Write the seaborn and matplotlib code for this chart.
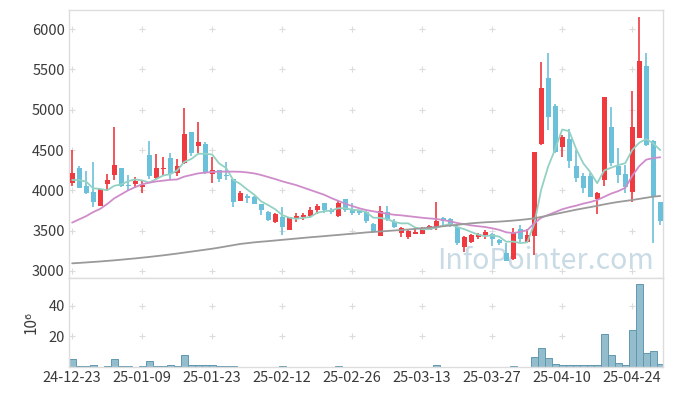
import numpy as np
import pandas as pd
import matplotlib
matplotlib.use('Agg')
import matplotlib.pyplot as plt
import seaborn as sns

# daily candles, 24-12-23 .. 25-04-29 (trading days only)
opens = [4095, 4277, 4054, 3980, 3806, 4079, 4190, 4273, 4071, 4079,
         4046, 4438, 4157, 4260, 4397, 4219, 4335, 4720, 4554, 4575,
         4203, 4248, 4195, 4141, 3872, 3930, 3914, 3831, 3732, 3604,
         3674, 3508, 3661, 3666, 3682, 3756, 3839, 3756, 3682, 3889,
         3765, 3740, 3732, 3579, 3438, 3728, 3612, 3475, 3426, 3463,
         3463, 3508, 3542, 3657, 3641, 3550, 3293, 3360, 3418, 3443,
         3455, 3384, 3219, 3145, 3517, 3360, 3434, 4571, 5389, 5042,
         4542, 4633, 4302, 4178, 4178, 3889, 4128, 4782, 4306, 4203,
         3984, 4653, 5542, 4612, 3851]
highs = [4500, 4302, 4240, 4352, 4021, 4203, 4782, 4281, 4195, 4162,
         4128, 4608, 4451, 4410, 4459, 4385, 5017, 4728, 4844, 4604,
         4418, 4252, 4348, 4145, 3992, 3955, 3930, 3835, 3740, 3715,
         3790, 3675, 3723, 3715, 3790, 3831, 3843, 3777, 3872, 3893,
         3843, 3750, 3740, 3591, 3806, 3806, 3649, 3542, 3508, 3529,
         3550, 3566, 3852, 3674, 3653, 3570, 3430, 3455, 3475, 3508,
         3467, 3401, 3343, 3529, 3570, 3517, 4480, 5596, 5707, 5071,
         4686, 4757, 4500, 4211, 4211, 3984, 5160, 5030, 4521, 4314,
         5232, 6146, 5699, 4620, 3860]
lows = [4054, 4025, 3951, 3798, 3800, 3996, 4128, 4038, 3996, 4025,
        3963, 4141, 4137, 4178, 4141, 4178, 4323, 4426, 4459, 4203,
        4087, 4108, 4128, 3790, 3868, 3847, 3827, 3694, 3620, 3600,
        3446, 3505, 3612, 3632, 3666, 3707, 3723, 3707, 3666, 3735,
        3694, 3700, 3591, 3475, 3435, 3624, 3538, 3417, 3401, 3459,
        3459, 3504, 3508, 3570, 3550, 3322, 3239, 3347, 3393, 3401,
        3310, 3318, 3120, 3140, 3364, 3356, 3198, 4567, 4748, 4460,
        4418, 4273, 4108, 3971, 3918, 3707, 4054, 4302, 4087, 3963,
        3851, 4645, 4555, 3343, 3570]
closes = [4219, 4033, 3971, 3856, 4013, 4128, 4314, 4058, 4058, 4120,
          4066, 4178, 4277, 4277, 4203, 4302, 4699, 4459, 4600, 4211,
          4252, 4145, 4178, 3860, 3963, 3905, 3831, 3756, 3632, 3707,
          3542, 3666, 3686, 3694, 3756, 3806, 3756, 3732, 3839, 3756,
          3715, 3720, 3624, 3488, 3744, 3641, 3550, 3529, 3492, 3484,
          3533, 3554, 3620, 3624, 3583, 3343, 3426, 3443, 3459, 3484,
          3401, 3343, 3128, 3467, 3393, 3446, 4472, 5265, 4905, 4472,
          4657, 4368, 4157, 4033, 3922, 3963, 5154, 4335, 4190, 4038,
          4782, 5604, 4562, 3922, 3624]

# moving averages as drawn (5 / 20 / long)
ma5 = [4128, 4128, 4108, 4025, 4018, 4000, 4056, 4074, 4114, 4136,
       4123, 4096, 4140, 4184, 4200, 4247, 4352, 4388, 4453, 4454,
       4444, 4333, 4277, 4129, 4080, 4010, 3947, 3863, 3817, 3766,
       3694, 3661, 3647, 3659, 3669, 3722, 3740, 3749, 3778, 3778,
       3760, 3752, 3731, 3661, 3658, 3643, 3609, 3590, 3591, 3539,
       3518, 3518, 3537, 3563, 3583, 3545, 3519, 3484, 3451, 3431,
       3443, 3426, 3363, 3365, 3346, 3355, 3581, 4009, 4296, 4512,
       4754, 4733, 4512, 4337, 4227, 4089, 4246, 4281, 4313, 4336,
       4500, 4590, 4635, 4582, 4499]
ma20 = [3600, 3640, 3680, 3730, 3770, 3830, 3900, 3950, 4000, 4040,
        4075, 4095, 4110, 4120, 4130, 4135, 4170, 4190, 4210, 4220,
        4228, 4232, 4232, 4232, 4230, 4222, 4210, 4190, 4165, 4140,
        4112, 4088, 4065, 4035, 4005, 3975, 3945, 3905, 3870, 3835,
        3805, 3778, 3756, 3740, 3725, 3710, 3697, 3690, 3680, 3670,
        3660, 3652, 3645, 3632, 3615, 3595, 3580, 3565, 3555, 3545,
        3530, 3510, 3480, 3470, 3485, 3505, 3590, 3660, 3695, 3730,
        3765, 3790, 3810, 3835, 3855, 3880, 3920, 3960, 3990, 4030,
        4180, 4300, 4380, 4400, 4410]
ma_long = [3095, 3100, 3106, 3112, 3118, 3125, 3132, 3140, 3148, 3156,
           3165, 3174, 3184, 3194, 3205, 3216, 3228, 3240, 3252, 3264,
           3276, 3290, 3305, 3320, 3335, 3345, 3355, 3363, 3370, 3378,
           3386, 3394, 3402, 3410, 3418, 3425, 3432, 3440, 3447, 3455,
           3462, 3470, 3478, 3484, 3490, 3496, 3502, 3508, 3514, 3522,
           3530, 3538, 3546, 3555, 3564, 3572, 3582, 3591, 3598, 3604,
           3608, 3612, 3618, 3625, 3633, 3642, 3653, 3670, 3688, 3706,
           3724, 3742, 3760, 3776, 3792, 3808, 3826, 3842, 3856, 3868,
           3880, 3894, 3908, 3922, 3930]

# volume, 10^6 shares
volume = [5.0, 0.7, 0.7, 1.3, 0.3, 0.7, 5.3, 0.7, 0.7, 0.3,
          0.7, 4.0, 0.7, 0.7, 1.3, 0.7, 8.0, 1.3, 1.3, 1.3,
          1.3, 0.7, 0.7, 0.7, 0.3, 0.2, 0.2, 0.2, 0.2, 0.2,
          0.7, 0.2, 0.2, 0.2, 0.2, 0.2, 0.2, 0.2, 0.7, 0.2,
          0.2, 0.2, 0.2, 0.2, 0.2, 0.2, 0.2, 0.2, 0.2, 0.2,
          0.2, 0.2, 1.3, 0.2, 0.2, 0.2, 0.2, 0.2, 0.2, 0.2,
          0.2, 0.2, 0.2, 0.7, 0.2, 0.2, 6.7, 12.7, 6.0, 2.0,
          1.2, 1.2, 1.2, 1.2, 1.2, 1.2, 21.3, 8.0, 2.7, 1.3,
          24.0, 54.0, 9.3, 10.7, 2.0]

tick_labels = ['24-12-23', '25-01-09', '25-01-23', '25-02-12', '25-02-26',
               '25-03-13', '25-03-27', '25-04-10', '25-04-24']

df = pd.DataFrame({'open': opens, 'high': highs, 'low': lows, 'close': closes,
                   'ma5': ma5, 'ma20': ma20, 'ma_long': ma_long, 'vol': volume})
df['i'] = np.arange(len(df))

sns.set_theme(style='white')
plt.rcParams['font.family'] = ['Noto Sans CJK KR', 'DejaVu Sans']

RED = '#ef3b3f'
BLUE = '#6cc1da'
SPINE = '#dddddd'
TXT = '#3a3a3a'

fig = plt.figure(figsize=(6.73, 3.96), dpi=100)
ax = fig.add_axes([69 / 673, 118 / 396, 594 / 673, 268 / 396])
axv = fig.add_axes([69 / 673, 29 / 396, 594 / 673, 89 / 396])

xlim = (-0.45, 84.4)
xt = np.arange(0, 81, 10)

# grid crosses
for y in range(3000, 6001, 500):
    ax.scatter(xt, [y] * len(xt), marker='+', s=18, color='#dcdcdc', lw=0.8, zorder=0)
for y in (20, 40):
    axv.scatter(xt, [y] * len(xt), marker='+', s=18, color='#dcdcdc', lw=0.8, zorder=0)

# candles
up = df['close'] >= df['open']
colors = np.where(up, RED, BLUE)
body_lo = df[['open', 'close']].min(axis=1)
body_h = (df['close'] - df['open']).abs().clip(lower=14)
ax.vlines(df['i'], df['low'], df['high'], colors=colors, lw=1.2, zorder=2)
ax.bar(df['i'], body_h, bottom=body_lo, width=0.72, color=colors, lw=0, zorder=3)

# moving averages
sns.lineplot(data=df, x='i', y='ma5', color='#93d2c3', lw=1.3, ax=ax, zorder=4)
sns.lineplot(data=df, x='i', y='ma20', color='#cf8ccb', lw=1.3, ax=ax, zorder=4)
sns.lineplot(data=df, x='i', y='ma_long', color='#9a9a9a', lw=1.3, ax=ax, zorder=4)

ax.text(0.62, 0.035, 'InfoPointer.com', transform=ax.transAxes, fontsize=20.5,
        color='#c9dbe5', ha='left', va='baseline', zorder=1)

ax.set_xlim(xlim)
ax.set_ylim(2913, 6236)
ax.set_yticks(range(3000, 6001, 500))
ax.set_xticks(xt)
ax.set_xticklabels([])
ax.set_xlabel('')
ax.set_ylabel('')

# volume
sns.barplot(data=df, x='i', y='vol', native_scale=True, width=1, color='#93bccd',
            saturation=1, edgecolor='#5f98b0', linewidth=0.7, errorbar=None, ax=axv)
axv.set_xlim(xlim)
axv.set_ylim(0, 58)
axv.set_yticks([20, 40])
axv.set_xticks(xt)
axv.set_xticklabels(tick_labels)
axv.set_xlabel('')
axv.set_ylabel('10⁶', fontsize=11, color=TXT, labelpad=6)

for a in (ax, axv):
    a.tick_params(length=0, labelsize=10.5, colors=TXT, pad=3)
    for s in a.spines.values():
        s.set_color(SPINE)
        s.set_linewidth(1)

fig.savefig('out.png', dpi=100)
